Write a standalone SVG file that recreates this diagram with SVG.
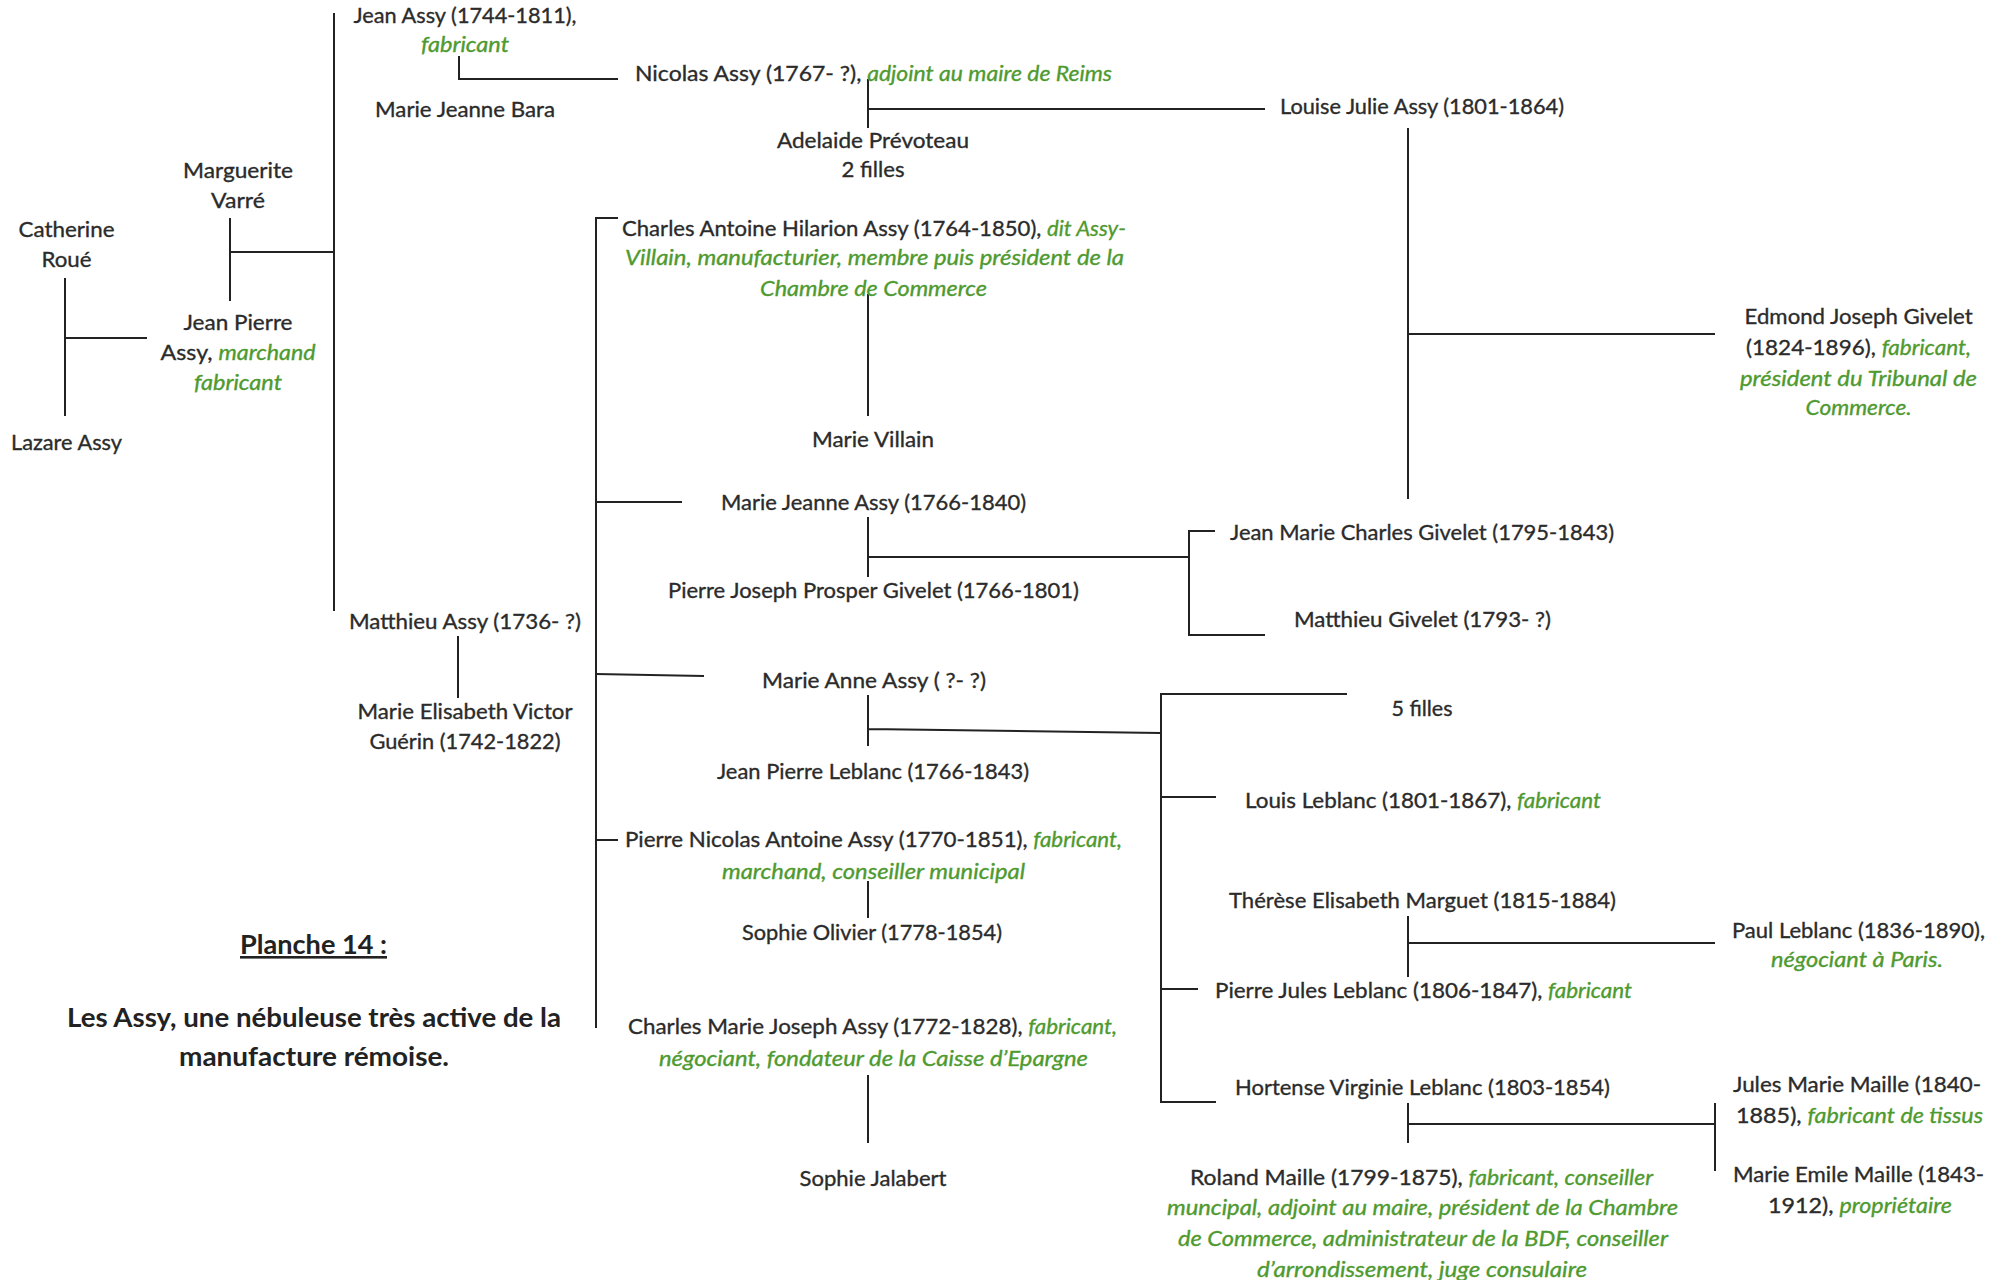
<svg xmlns="http://www.w3.org/2000/svg" width="2007" height="1280" viewBox="0 0 2007 1280">
<style>
text{font-family:Lato,"Open Sans","Liberation Sans",sans-serif;font-size:22px;fill:#2b2b2b;stroke:#2b2b2b;stroke-width:0.35}
.g{fill:#4e9a2f;stroke:#4e9a2f;font-style:italic}
.b{font-weight:bold;font-size:26px;fill:#222;stroke:none}
.u{text-decoration:underline}
.l{stroke:#222;stroke-width:2;fill:none}
</style>
<rect width="2007" height="1280" fill="#fff"/>
<g id="connectors">
<path class="l" d="M334 13V611M230 252H334M230 218V301"/>
<path class="l" d="M65 278V416M65 338H147"/>
<path class="l" d="M459 56V79H618"/>
<path class="l" d="M868 79V128M868 109H1265"/>
<path class="l" d="M1408 128V499M1408 334H1715"/>
<path class="l" d="M618 218H596V1028"/>
<path class="l" d="M868 294V416"/>
<path class="l" d="M596 502H682"/>
<path class="l" d="M868 517V577M868 557H1189"/>
<path class="l" d="M1215 531H1189V635H1265"/>
<path class="l" d="M596 674L704 676"/>
<path class="l" d="M868 695V746M868 729L1161 733"/>
<path class="l" d="M1347 694H1161V1102H1216M1161 797H1216M1161 989H1198"/>
<path class="l" d="M458 636V698"/>
<path class="l" d="M596 840H618"/>
<path class="l" d="M868 881V918"/>
<path class="l" d="M868 1075V1143"/>
<path class="l" d="M1408 916V977M1408 943H1715"/>
<path class="l" d="M1408 1103V1143M1408 1124H1715M1715 1103V1171"/>
</g>
<g id="jean-assy"><text x="353.5" y="23" textLength="223" lengthAdjust="spacingAndGlyphs">Jean Assy (1744-1811),</text><text class="g" x="421" y="52" textLength="88" lengthAdjust="spacingAndGlyphs">fabricant</text></g>
<g id="marie-jeanne-bara"><text x="375" y="117" textLength="180" lengthAdjust="spacingAndGlyphs">Marie Jeanne Bara</text></g>
<g id="marguerite-varre"><text x="183" y="178" textLength="110" lengthAdjust="spacingAndGlyphs">Marguerite</text><text x="211" y="208" textLength="54" lengthAdjust="spacingAndGlyphs">Varré</text></g>
<g id="catherine-roue"><text x="18.5" y="237" textLength="96" lengthAdjust="spacingAndGlyphs">Catherine</text><text x="41.5" y="267" textLength="50" lengthAdjust="spacingAndGlyphs">Roué</text></g>
<g id="jean-pierre-assy"><text x="183.5" y="330" textLength="109" lengthAdjust="spacingAndGlyphs">Jean Pierre</text><text x="160.5" y="360" textLength="155" lengthAdjust="spacingAndGlyphs">Assy, <tspan class="g">marchand</tspan></text><text class="g" x="194" y="390" textLength="88" lengthAdjust="spacingAndGlyphs">fabricant</text></g>
<g id="lazare-assy"><text x="11" y="450" textLength="111" lengthAdjust="spacingAndGlyphs">Lazare Assy</text></g>
<g id="nicolas-assy"><text x="635" y="81" textLength="477" lengthAdjust="spacingAndGlyphs">Nicolas Assy (1767- ?), <tspan class="g">adjoint au maire de Reims</tspan></text></g>
<g id="adelaide-prevoteau"><text x="777" y="148" textLength="192" lengthAdjust="spacingAndGlyphs">Adelaide Prévoteau</text><text x="841.5" y="177" textLength="63" lengthAdjust="spacingAndGlyphs">2 filles</text></g>
<g id="louise-julie-assy"><text x="1280" y="114" textLength="284" lengthAdjust="spacingAndGlyphs">Louise Julie Assy (1801-1864)</text></g>
<g id="charles-antoine-hilarion-assy"><text x="622" y="236" textLength="504" lengthAdjust="spacingAndGlyphs">Charles Antoine Hilarion Assy (1764-1850), <tspan class="g">dit Assy-</tspan></text><text class="g" x="625" y="265" textLength="499" lengthAdjust="spacingAndGlyphs">Villain, manufacturier, membre puis président de la</text><text class="g" x="760" y="296" textLength="227" lengthAdjust="spacingAndGlyphs">Chambre de Commerce</text></g>
<g id="marie-villain"><text x="812" y="447" textLength="122" lengthAdjust="spacingAndGlyphs">Marie Villain</text></g>
<g id="edmond-joseph-givelet"><text x="1744.6" y="324" textLength="228" lengthAdjust="spacingAndGlyphs">Edmond Joseph Givelet</text><text x="1746" y="355" textLength="225" lengthAdjust="spacingAndGlyphs">(1824-1896), <tspan class="g">fabricant,</tspan></text><text class="g" x="1740" y="386" textLength="237" lengthAdjust="spacingAndGlyphs">président du Tribunal de</text><text class="g" x="1805.6" y="415" textLength="106" lengthAdjust="spacingAndGlyphs">Commerce.</text></g>
<g id="marie-jeanne-assy"><text x="721" y="510" textLength="305" lengthAdjust="spacingAndGlyphs">Marie Jeanne Assy (1766-1840)</text></g>
<g id="jean-marie-charles-givelet"><text x="1230" y="540" textLength="384" lengthAdjust="spacingAndGlyphs">Jean Marie Charles Givelet (1795-1843)</text></g>
<g id="pierre-joseph-prosper-givelet"><text x="668" y="598" textLength="411" lengthAdjust="spacingAndGlyphs">Pierre Joseph Prosper Givelet (1766-1801)</text></g>
<g id="matthieu-givelet"><text x="1294" y="627" textLength="257" lengthAdjust="spacingAndGlyphs">Matthieu Givelet (1793- ?)</text></g>
<g id="matthieu-assy"><text x="349" y="629" textLength="232" lengthAdjust="spacingAndGlyphs">Matthieu Assy (1736- ?)</text></g>
<g id="marie-anne-assy"><text x="762" y="688" textLength="224" lengthAdjust="spacingAndGlyphs">Marie Anne Assy ( ?- ?)</text></g>
<g id="cinq-filles"><text x="1391.5" y="716" textLength="61" lengthAdjust="spacingAndGlyphs">5 filles</text></g>
<g id="marie-elisabeth-victor-guerin"><text x="357.5" y="719" textLength="215" lengthAdjust="spacingAndGlyphs">Marie Elisabeth Victor</text><text x="369.5" y="749" textLength="191" lengthAdjust="spacingAndGlyphs">Guérin (1742-1822)</text></g>
<g id="jean-pierre-leblanc"><text x="717" y="779" textLength="312" lengthAdjust="spacingAndGlyphs">Jean Pierre Leblanc (1766-1843)</text></g>
<g id="louis-leblanc"><text x="1245" y="808" textLength="356" lengthAdjust="spacingAndGlyphs">Louis Leblanc (1801-1867), <tspan class="g">fabricant</tspan></text></g>
<g id="pierre-nicolas-antoine-assy"><text x="625" y="847" textLength="497" lengthAdjust="spacingAndGlyphs">Pierre Nicolas Antoine Assy (1770-1851), <tspan class="g">fabricant,</tspan></text><text class="g" x="722" y="879" textLength="303" lengthAdjust="spacingAndGlyphs">marchand, conseiller municipal</text></g>
<g id="therese-elisabeth-marguet"><text x="1229" y="908" textLength="387" lengthAdjust="spacingAndGlyphs">Thérèse Elisabeth Marguet (1815-1884)</text></g>
<g id="sophie-olivier"><text x="742" y="940" textLength="260" lengthAdjust="spacingAndGlyphs">Sophie Olivier (1778-1854)</text></g>
<g id="paul-leblanc"><text x="1732" y="938" textLength="253" lengthAdjust="spacingAndGlyphs">Paul Leblanc (1836-1890),</text><text class="g" x="1771" y="967" textLength="172" lengthAdjust="spacingAndGlyphs">négociant à Paris.</text></g>
<g id="title"><text class="b u" x="240" y="954" textLength="147" lengthAdjust="spacingAndGlyphs">Planche 14 :</text><text class="b" x="67" y="1027" textLength="494" lengthAdjust="spacingAndGlyphs">Les Assy, une nébuleuse très active de la</text><text class="b" x="179" y="1066" textLength="270" lengthAdjust="spacingAndGlyphs">manufacture rémoise.</text></g>
<g id="pierre-jules-leblanc"><text x="1215" y="998" textLength="417" lengthAdjust="spacingAndGlyphs">Pierre Jules Leblanc (1806-1847), <tspan class="g">fabricant</tspan></text></g>
<g id="charles-marie-joseph-assy"><text x="628" y="1034" textLength="489" lengthAdjust="spacingAndGlyphs">Charles Marie Joseph Assy (1772-1828), <tspan class="g">fabricant,</tspan></text><text class="g" x="659" y="1066" textLength="429" lengthAdjust="spacingAndGlyphs">négociant, fondateur de la Caisse d’Epargne</text></g>
<g id="hortense-virginie-leblanc"><text x="1235" y="1095" textLength="375" lengthAdjust="spacingAndGlyphs">Hortense Virginie Leblanc (1803-1854)</text></g>
<g id="jules-marie-maille"><text x="1733" y="1092" textLength="248" lengthAdjust="spacingAndGlyphs">Jules Marie Maille (1840-</text><text x="1736" y="1123" textLength="247" lengthAdjust="spacingAndGlyphs">1885), <tspan class="g">fabricant de tissus</tspan></text></g>
<g id="sophie-jalabert"><text x="799.5" y="1186" textLength="147" lengthAdjust="spacingAndGlyphs">Sophie Jalabert</text></g>
<g id="roland-maille"><text x="1190" y="1185" textLength="463" lengthAdjust="spacingAndGlyphs">Roland Maille (1799-1875), <tspan class="g">fabricant, conseiller</tspan></text><text class="g" x="1167" y="1215" textLength="511" lengthAdjust="spacingAndGlyphs">muncipal, adjoint au maire, président de la Chambre</text><text class="g" x="1178" y="1246" textLength="490" lengthAdjust="spacingAndGlyphs">de Commerce, administrateur de la BDF, conseiller</text><text class="g" x="1257" y="1277" textLength="330" lengthAdjust="spacingAndGlyphs">d’arrondissement, juge consulaire</text></g>
<g id="marie-emile-maille"><text x="1733" y="1182" textLength="251" lengthAdjust="spacingAndGlyphs">Marie Emile Maille (1843-</text><text x="1768" y="1213" textLength="184" lengthAdjust="spacingAndGlyphs">1912), <tspan class="g">propriétaire</tspan></text></g>
</svg>
